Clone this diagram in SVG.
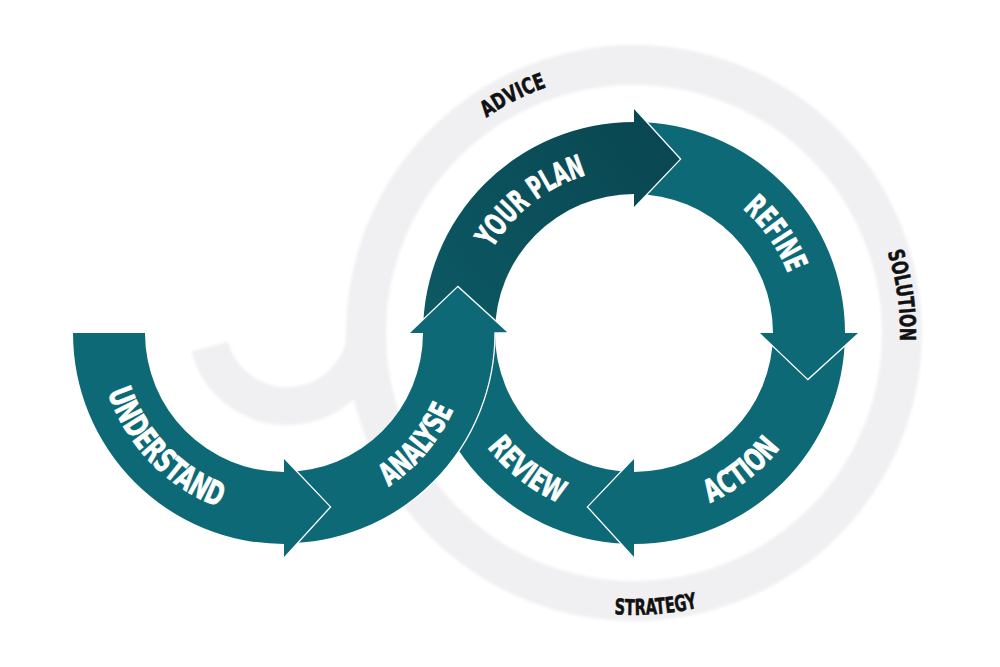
<svg xmlns="http://www.w3.org/2000/svg" width="1000" height="667" viewBox="0 0 1000 667">
<style>
.arrow{fill:#0c6975}
.dark{fill:url(#gPlan)}
.edge{fill:none;stroke:#ffffff;stroke-width:1.3;stroke-linejoin:miter}
.shadow{fill:none;stroke:#f0f0f3}
.lbl{fill:#ffffff;stroke:#ffffff;stroke-width:0.7;font-family:"DejaVu Sans Condensed","DejaVu Sans","Liberation Sans",sans-serif;font-weight:700;font-size:31px}
.out{fill:#111111;stroke:#111111;stroke-width:0.5;font-family:"DejaVu Sans Condensed","DejaVu Sans","Liberation Sans",sans-serif;font-weight:700;font-size:22px}
</style>
<defs>
<linearGradient id="gPlan" x1="430" y1="330" x2="680" y2="130" gradientUnits="userSpaceOnUse">
<stop offset="0" stop-color="#0c5964"/>
<stop offset="1" stop-color="#094651"/>
</linearGradient>
<filter id="soft" x="-10%" y="-10%" width="120%" height="120%"><feGaussianBlur stdDeviation="1.5"/></filter>
<path id="pUnderstand" d="M98.5,346 A186,186 0 0 0 264.6,518"/>
<path id="pAnalyse" d="M316.3,516.2 A186,186 0 0 0 470,333"/>
<path id="pPlan" d="M472.6,298.7 A165,165 0 0 1 639.8,168.1"/>
<path id="pRefine" d="M676.7,173.6 A165,165 0 0 1 798.4,347.4"/>
<path id="pAction" d="M627.5,518.9 A186,186 0 0 0 815.9,371.7"/>
<path id="pReview" d="M452.1,371.7 A186,186 0 0 0 640.5,518.9"/>
<path id="pAdvice" d="M393.7,231 A261,261 0 0 1 692.7,78.7"/>
<path id="pSolution" d="M812,135.3 A266,266 0 0 1 859.6,474"/>
<path id="pStrategy" d="M470.2,562.6 A282,282 0 0 0 831.7,534.1"/>
</defs>
<rect width="1000" height="667" fill="#ffffff"/>

<g id="shadow" filter="url(#soft)">
<circle class="shadow" cx="634" cy="333" r="268" stroke-width="40"/>
<path class="shadow" d="M367,326 A80,80 0 0 1 209.7,346.7" stroke-width="38"/>
</g>

<g id="review">
<path class="arrow" d="M634,544 A211,211 0 0 1 423,333 L495,333 A139,139 0 0 0 634,472 Z"/>
<text class="lbl"><textPath href="#pReview" startOffset="50%" text-anchor="middle" textLength="92" lengthAdjust="spacingAndGlyphs">REVIEW</textPath></text>
</g>

<g id="action">
<path class="arrow" d="M845,333 A211,211 0 0 1 634,544 L634,558 L587.4,506.9 L634,458 L634,472 A139,139 0 0 0 773,333 Z"/>
<path class="edge" d="M634,558 L587.4,506.9 L634,458"/>
<text class="lbl"><textPath href="#pAction" startOffset="50%" text-anchor="middle" textLength="90" lengthAdjust="spacingAndGlyphs">ACTION</textPath></text>
</g>

<g id="refine">
<path class="arrow" d="M634,122 A211,211 0 0 1 845,333 L859,333 L807.9,379.6 L759,333 L773,333 A139,139 0 0 0 634,194 Z"/>
<path class="edge" d="M859,333 L807.9,379.6 L759,333"/>
<text class="lbl"><textPath href="#pRefine" startOffset="50%" text-anchor="middle" textLength="80" lengthAdjust="spacingAndGlyphs">REFINE</textPath></text>
</g>

<g id="your-plan">
<path class="dark" d="M423,333 A211,211 0 0 1 634,122 L634,108 L680.6,159.1 L634,208 L634,194 A139,139 0 0 0 495,333 Z"/>
<path class="edge" d="M634,108 L680.6,159.1 L634,208"/>
<text class="lbl"><textPath href="#pPlan" startOffset="50%" text-anchor="middle" textLength="122" lengthAdjust="spacingAndGlyphs">YOUR PLAN</textPath></text>
</g>

<g id="analyse">
<path class="arrow" d="M284,544 A211,211 0 0 0 495,333 L509,333 L457.9,286.4 L409,333 L423,333 A139,139 0 0 1 284,472 Z"/>
<path class="edge" d="M284,544 A211,211 0 0 0 495,333 L509,333 L457.9,286.4 L409,333"/>
<text class="lbl"><textPath href="#pAnalyse" startOffset="50%" text-anchor="middle" textLength="102" lengthAdjust="spacingAndGlyphs">ANALYSE</textPath></text>
</g>

<g id="understand">
<path class="arrow" d="M73,333 A211,211 0 0 0 284,544 L284,558 L330.6,506.9 L284,458 L284,472 A139,139 0 0 1 145,333 Z"/>
<path class="edge" d="M284,558 L330.6,506.9 L284,458"/>
<text class="lbl" style="font-size:33px"><textPath href="#pUnderstand" startOffset="50%" text-anchor="middle" textLength="165" lengthAdjust="spacingAndGlyphs">UNDERSTAND</textPath></text>
</g>

<g id="advice">
<text class="out"><textPath href="#pAdvice" startOffset="50%" text-anchor="middle" textLength="68" lengthAdjust="spacingAndGlyphs">ADVICE</textPath></text>
</g>
<g id="solution">
<text class="out"><textPath href="#pSolution" startOffset="50%" text-anchor="middle" textLength="90" lengthAdjust="spacingAndGlyphs">SOLUTION</textPath></text>
</g>
<g id="strategy">
<text class="out"><textPath href="#pStrategy" startOffset="50%" text-anchor="middle" textLength="84" lengthAdjust="spacingAndGlyphs">STRATEGY</textPath></text>
</g>
</svg>
